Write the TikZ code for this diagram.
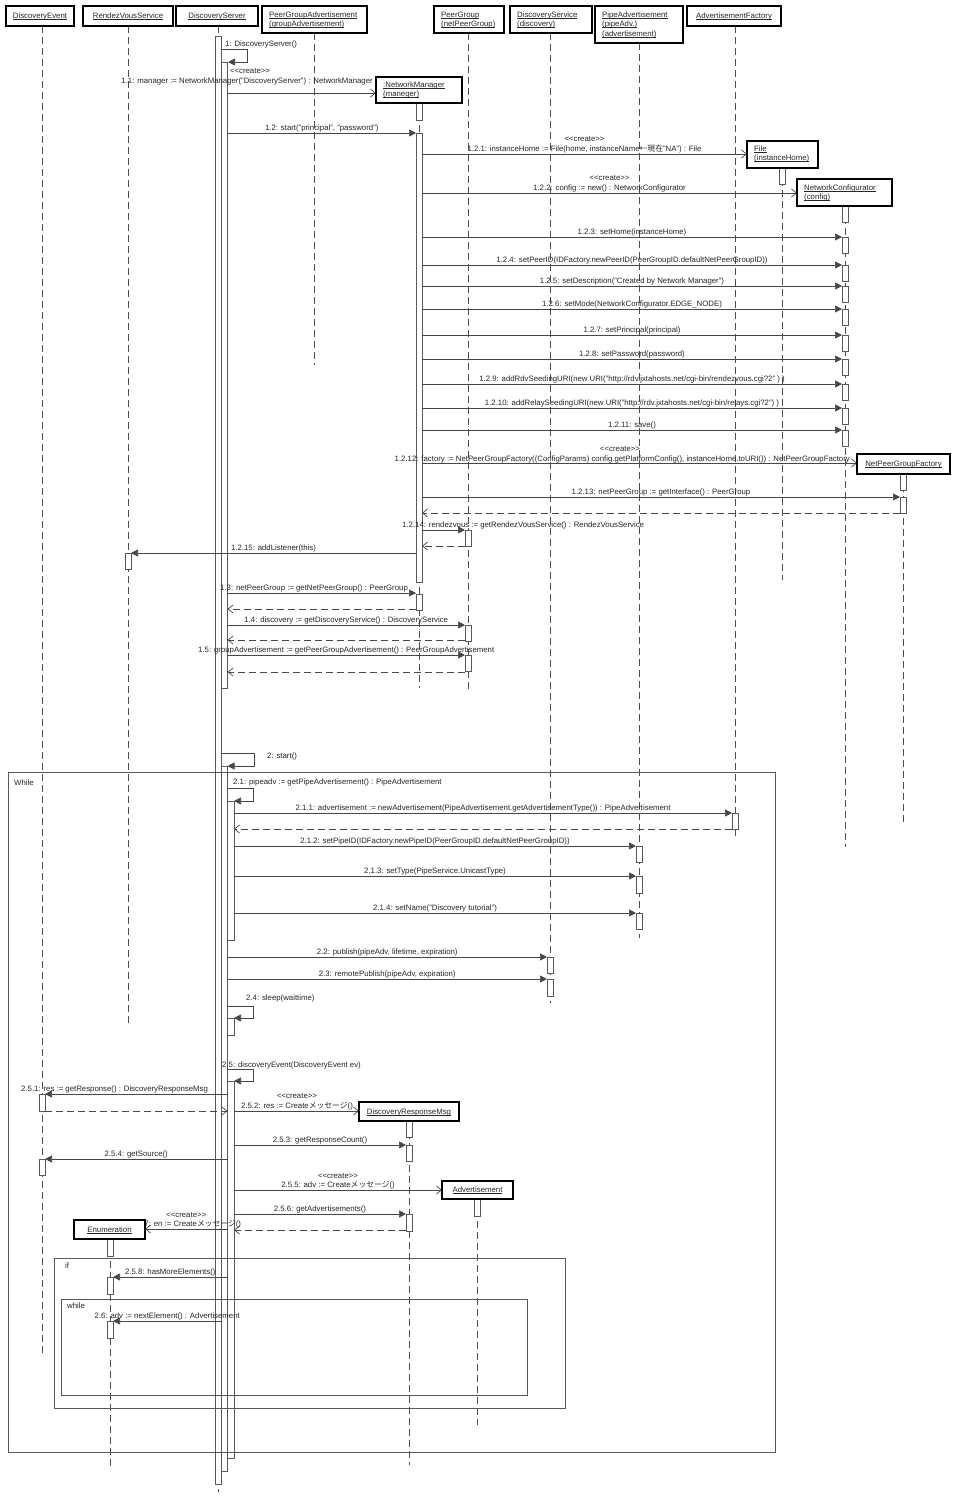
\documentclass[tikz,border=0pt]{standalone}
\usepackage{fontspec}
\setmainfont{Liberation Sans}
\newfontfamily\jp{Noto Sans CJK JP}
\usetikzlibrary{arrows.meta}
\tikzset{
  lbl/.style={font=\fontsize{7.8}{9}\selectfont, inner sep=0pt, text=black!85},
  life/.style={draw=black!70, line width=0.6pt, dash pattern=on 7pt off 4pt},
  actbar/.style={draw=black!65, fill=white, line width=0.6pt},
  msgl/.style={draw=black!72, line width=0.7pt},
  callarr/.style={msgl, -{Triangle[length=7pt,width=7pt]}},
  retarr/.style={msgl, dash pattern=on 7pt off 4pt, -{Straight Barb[length=5pt,width=8pt]}},
  crearr/.style={msgl, -{Straight Barb[length=5pt,width=8pt]}},
  objbox/.style={draw=black, line width=1.2pt, fill=white},
  fragframe/.style={draw=black!65, line width=0.6pt},
}
% close underline
\newcommand\myul[1]{\setbox0\hbox{#1}\rlap{\rule[-1.4pt]{\wd0}{0.45pt}}\box0}
% y x1 x2 labelx text
\newcommand\callm[5]{\draw[callarr] (#2,#1) -- (#3,#1);
  \node[lbl,anchor=base] at (#4,#1-2.5) {#5};}
\newcommand\callw[5]{\draw[callarr] (#2,#1) -- (#3,#1);
  \node[lbl,anchor=base west] at (#4,#1-2.5) {#5};}
\newcommand\retm[3]{\draw[retarr] (#2,#1) -- (#3,#1);}
% y x1 x2 labelx text createbaseline
\newcommand\crem[6]{\draw[crearr] (#2,#1) -- (#3,#1);
  \node[lbl,anchor=base] at (#4,#1-2.5) {#5};
  \node[lbl,anchor=base] at (#4,#6) {<{}<create>{}>};}
% x1 y1 xr y2 x2
\newcommand\selfm[5]{\draw[callarr] (#1,#2) -- (#3,#2) -- (#3,#4) -- (#5,#4);}
\newcommand\lifel[3]{\draw[life] (#1,#2) -- (#1,#3);}
\newcommand\abar[3]{\draw[actbar] (#1-3,#2) rectangle (#1+3,#3);}
% x1 y1 x2 y2 name text (single line centred)
\newcommand\objc[6]{\draw[objbox] (#1,#2) rectangle (#3,#4);
  \node[lbl,anchor=base] (#5) at ({(#1+#3)/2},{(#2+#4)/2+2.5}) {\myul{#6}};}
\begin{document}
\begin{tikzpicture}[x=1pt,y=-1pt]
\fill[white] (0,0) rectangle (956,1500);
\useasboundingbox (0,0) rectangle (956,1500);

% ---------------- lifelines
\lifel{42}{26}{1354}
\lifel{128}{26}{1025}
\lifel{218}{26}{1492}
\lifel{314}{33}{365}
\lifel{468}{33}{690}
\lifel{550}{33}{1003}
\lifel{639}{43}{938}
\lifel{735}{26}{838}
\lifel{419}{103}{688}
\lifel{782}{168}{580}
\lifel{845}{206}{847}
\lifel{903}{474}{822}
\lifel{409}{1121}{1465}
\lifel{477}{1199}{1425}
\lifel{110}{1239}{1467}

% ---------------- activation bars
\draw[actbar] (215,36) rectangle (221,1484);
\draw[actbar] (221,62) rectangle (227.5,688);
\draw[actbar] (221,766) rectangle (227.5,1471);
\draw[actbar] (227.5,801) rectangle (234,940);
\draw[actbar] (227.5,1018) rectangle (234,1035);
\draw[actbar] (227.5,1081) rectangle (234,1458);
\abar{419}{103}{120}
\abar{419}{133}{582}
\abar{419}{594}{610}
\abar{782}{168}{184}
\abar{845}{206}{222}
\abar{845}{237}{253}
\abar{845}{265}{281}
\abar{845}{286}{302}
\abar{845}{309}{325}
\abar{845}{335}{351}
\abar{845}{359}{375}
\abar{845}{384}{400}
\abar{845}{408}{424}
\abar{845}{430}{446}
\abar{903}{474}{490}
\abar{903}{497}{513}
\abar{468}{530}{546}
\abar{468}{625}{641}
\abar{468}{655}{671}
\abar{128}{553}{569}
\abar{735}{813}{829}
\abar{639}{846}{862}
\abar{639}{876}{893}
\abar{639}{913}{929}
\abar{550}{957}{973}
\abar{550}{979}{996}
\abar{42}{1094}{1111}
\abar{42}{1159}{1175}
\abar{409}{1121}{1137}
\abar{409}{1145}{1161}
\abar{409}{1214}{1231}
\abar{477}{1199}{1216}
\abar{110}{1239}{1256}
\abar{110}{1277}{1294}
\abar{110}{1321}{1338}

% ---------------- combined fragments
\draw[fragframe] (8,772) rectangle (775,1452);
\node[lbl,anchor=base west] (fWhile) at (14,785) {While};
\draw[fragframe] (54,1258) rectangle (565,1408);
\node[lbl,anchor=base west] (fIf) at (65,1268) {if};
\draw[fragframe] (61,1299) rectangle (527,1395);
\node[lbl,anchor=base west] (fwhile) at (67,1308) {while};

% ---------------- phase 1 messages
\selfm{221}{49}{247}{62}{228}
\node[lbl,anchor=base west] at (225,46.5) {1: DiscoveryServer()};
\draw[crearr] (227.5,93) -- (376,93);
\node[lbl,anchor=base] at (250,73) {<{}<create>{}>};
\node[lbl,anchor=base east] at (373,83) {1.1: manager := NetworkManager("DiscoveryServer") : NetworkManager};
\callm{133}{227.5}{416}{321.75}{1.2: start("principal", "password")}
\crem{154}{422}{747}{584.5}{1.2.1: instanceHome := File(home, instanceName{\jp ←現在}"NA") : File}{141}
\crem{193}{422}{797}{609.5}{1.2.2: config := new() : NetworkConfigurator}{180}
\callm{237}{422}{842}{632}{1.2.3: setHome(instanceHome)}
\callm{265}{422}{842}{632}{1.2.4: setPeerID(IDFactory.newPeerID(PeerGroupID.defaultNetPeerGroupID))}
\callm{286}{422}{842}{632}{1.2.5: setDescription("Created by Network Manager")}
\callm{309}{422}{842}{632}{1.2.6: setMode(NetworkConfigurator.EDGE\_NODE)}
\callm{335}{422}{842}{632}{1.2.7: setPrincipal(principal)}
\callm{359}{422}{842}{632}{1.2.8: setPassword(password)}
\callm{384}{422}{842}{632}{1.2.9: addRdvSeedingURI(new URI("http://rdv.jxtahosts.net/cgi-bin/rendezvous.cgi?2" ) )}
\callm{408}{422}{842}{632}{1.2.10: addRelaySeedingURI(new URI("http://rdv.jxtahosts.net/cgi-bin/relays.cgi?2") )}
\callm{430}{422}{842}{632}{1.2.11: save()}
\draw[crearr] (422,463) -- (857,463);
\node[lbl,anchor=base] at (620,451) {<{}<create>{}>};
\node[lbl,anchor=base east] at (850,461) {1.2.12: factory := NetPeerGroupFactory((ConfigParams) config.getPlatformConfig(), instanceHome.toURI()) : NetPeerGroupFactory};
\callm{497}{422}{900}{661}{1.2.13: netPeerGroup := getInterface() : PeerGroup}
\retm{513}{900}{422}
\callw{530}{422}{465}{402}{1.2.14: rendezvous := getRendezVousService() : RendezVousService}
\retm{546}{465}{422}
\callm{553}{416}{131}{273.5}{1.2.15: addListener(this)}
\callw{593}{227.5}{416}{220}{1.3: netPeerGroup := getNetPeerGroup() : PeerGroup}
\retm{609}{416}{227.5}
\callm{625}{227.5}{465}{346.25}{1.4: discovery := getDiscoveryService() : DiscoveryService}
\retm{640}{465}{227.5}
\callm{655}{227.5}{465}{346.25}{1.5: groupAdvertisement := getPeerGroupAdvertisement() : PeerGroupAdvertisement}
\retm{672}{465}{227.5}

% ---------------- phase 2 messages
\selfm{221}{753}{254}{766}{227.5}
\node[lbl,anchor=base west] at (267,758) {2: start()};
\selfm{227.5}{788}{253}{801}{234}
\node[lbl,anchor=base west] at (233,784) {2.1: pipeadv := getPipeAdvertisement() : PipeAdvertisement};
\callm{813}{234}{732}{483}{2.1.1: advertisement := newAdvertisement(PipeAdvertisement.getAdvertisementType()) : PipeAdvertisement}
\retm{829}{732}{234}
\callm{846}{234}{636}{435}{2.1.2: setPipeID(IDFactory.newPipeID(PeerGroupID.defaultNetPeerGroupID))}
\callm{876}{234}{636}{435}{2.1.3: setType(PipeService.UnicastType)}
\callm{913}{234}{636}{435}{2.1.4: setName("Discovery tutorial")}
\callm{957}{227.5}{547}{387.25}{2.2: publish(pipeAdv, lifetime, expiration)}
\callm{979}{227.5}{547}{387.25}{2.3: remotePublish(pipeAdv, expiration)}
\selfm{227.5}{1006}{253}{1018}{234}
\node[lbl,anchor=base west] at (246,1000) {2.4: sleep(waittime)};
\selfm{227.5}{1069}{253}{1081}{234}
\node[lbl,anchor=base west] at (222,1067) {2.5: discoveryEvent(DiscoveryEvent ev)};
\callw{1094}{227.5}{45}{21}{2.5.1: res := getResponse() : DiscoveryResponseMsg}
\retm{1111}{45}{227.5}
\crem{1111}{234}{359}{297}{2.5.2: res := Create{\jp メッセージ}()}{1098}
\callm{1145}{234}{406}{320}{2.5.3: getResponseCount()}
\callm{1159}{227.5}{45}{136.25}{2.5.4: getSource()}
\crem{1190}{234}{442}{338}{2.5.5: adv := Create{\jp メッセージ}()}{1178}
\callm{1214}{234}{406}{320}{2.5.6: getAdvertisements()}
\retm{1230}{406}{234}
\crem{1229}{227.5}{145}{186.25}{2.5.7: en := Create{\jp メッセージ}()}{1217}
\callm{1277}{227.5}{113}{170.25}{2.5.8: hasMoreElements()}
\callm{1321}{221.5}{113}{167.25}{2.6: adv := nextElement() : Advertisement}

% ---------------- object boxes
\objc{6}{6}{74}{26}{hDE}{DiscoveryEvent}
\objc{83}{6}{173}{26}{hRVS}{RendezVousService}
\objc{176}{6}{258}{26}{hDS}{DiscoveryServer}
\draw[objbox] (262,6) rectangle (367,33);
\node[lbl,anchor=base west] (hPGA) at (269,17) {\myul{PeerGroupAdvertisement}};
\node[lbl,anchor=base west] (hPGAb) at (269,26.5) {\myul{(groupAdvertisement)}};
\draw[objbox] (434,6) rectangle (504,33);
\node[lbl,anchor=base west] (hPG) at (441,17) {\myul{PeerGroup}};
\node[lbl,anchor=base west] (hPGb) at (441,26.5) {\myul{(netPeerGroup)}};
\draw[objbox] (510,6) rectangle (592,33);
\node[lbl,anchor=base west] (hDSv) at (517,17) {\myul{DiscoveryService}};
\node[lbl,anchor=base west] (hDSvb) at (517,26.5) {\myul{(discovery)}};
\draw[objbox] (595,6) rectangle (683,43);
\node[lbl,anchor=base west] (hPA) at (602,17) {\myul{PipeAdvertisement}};
\node[lbl,anchor=base west] (hPAb) at (602,26.5) {\myul{(pipeAdv.)}};
\node[lbl,anchor=base west] (hPAc) at (602,36) {\myul{(advertisement)}};
\objc{687}{6}{781}{26}{hAF}{AdvertisementFactory}
\draw[objbox] (376,77) rectangle (462,103);
\node[lbl,anchor=base west] (oNM) at (383,87) {\myul{:NetworkManager}};
\node[lbl,anchor=base west] (oNMb) at (383,96.5) {\myul{(maneger)}};
\draw[objbox] (747,141) rectangle (818,168);
\node[lbl,anchor=base west] (oFile) at (754,151) {\myul{File}};
\node[lbl,anchor=base west] (oFileb) at (754,160.5) {\myul{(instanceHome)}};
\draw[objbox] (797,179) rectangle (892,206);
\node[lbl,anchor=base west] (oNC) at (804,190) {\myul{NetworkConfigurator}};
\node[lbl,anchor=base west] (oNCb) at (804,199.5) {\myul{(config)}};
\objc{857}{454}{950}{474}{oNPGF}{NetPeerGroupFactory}
\objc{359}{1102}{459}{1121}{oDRM}{DiscoveryResponseMsg}
\objc{442}{1181}{513}{1199}{oAdv}{Advertisement}
\objc{74}{1220}{145}{1239}{oEnum}{Enumeration}
\end{tikzpicture}
\end{document}
